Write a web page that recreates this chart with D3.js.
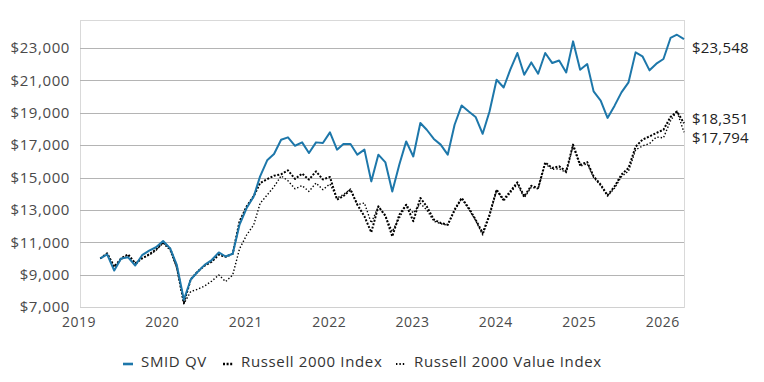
<!DOCTYPE html>
<html><head><meta charset="utf-8">
<script src="https://cdn.jsdelivr.net/npm/d3@7"></script>
<style>
html,body{margin:0;padding:0;background:#fff;}
svg{display:block;font-family:"Open Sans",Lato,sans-serif;}
</style></head><body>
<svg id="chart" width="764" height="382"></svg>
<script>
// ---- data ----
const seriesNames = ["SMID QV", "Russell 2000 Index", "Russell 2000 Value Index"];
const yTickValues = [7000, 9000, 11000, 13000, 15000, 17000, 19000, 21000, 23000];
const xTickYears = [2019, 2020, 2021, 2022, 2023, 2024, 2025, 2026];
// month-end values, Mar 2019 .. Mar 2026
const smidQV = [10000,10250,9250,10000,10070,9560,10200,10480,10690,11080,10620,9600,7450,8700,9180,9600,9900,10370,10120,10290,
 12090,13110,13830,15070,16060,16450,17330,17480,16960,17170,16510,17170,17130,17790,16720,17070,17070,16410,16720,14760,
 16410,15930,14140,15800,17230,16300,18370,17950,17380,17030,16410,18260,19450,19080,18740,17700,19080,21040,20560,21660,
 22690,21350,22110,21410,22690,22070,22230,21490,23410,21660,22010,20320,19750,18680,19440,20260,20880,22730,22490,21620,
 22030,22320,23620,23820,23548];
const russell2000 = [10000,10320,9490,10000,10250,9700,10000,10250,10550,11000,10600,9500,7250,8700,9200,9550,9800,10230,10100,10290,
 12290,13210,13850,14660,14900,15110,15200,15440,14910,15240,14870,15380,14880,15030,13630,13850,14250,13320,12600,11610,
 13215,12640,11360,12700,13320,12300,13735,13215,12400,12190,12085,13010,13735,13115,12400,11570,12700,14250,13630,14140,
 14700,13830,14490,14350,15930,15590,15690,15380,17030,15790,15950,15070,14560,13900,14450,15180,15590,16900,17340,17540,
 17750,17950,18740,19080,18351];
const russell2000Value = [10000,10250,9450,9950,10150,9600,10050,10200,10500,10950,10500,9400,7200,7950,8100,8300,8600,8980,8570,8980,
 10600,11450,12070,13400,13920,14430,15100,14800,14300,14500,14140,14660,14250,14600,13735,13940,14290,13320,13425,12190,
 13215,12600,11670,12500,13320,12800,13400,13000,12300,12150,12050,12950,13700,13050,12350,11450,12600,14200,13550,14050,
 14600,13750,14400,14300,15850,15500,15550,15300,16950,15700,15850,15000,14500,13850,14350,15050,15400,16700,16950,17100,
 17500,17450,18500,19100,17794];
const dates = smidQV.map((d, i) => new Date(2019, 3 + i, 0)); // month ends

// ---- layout ----
const svg = d3.select("#chart");
const plot = {left: 80, right: 684, top: 20, bottom: 307};
const x = d3.scaleTime().domain([new Date(2019, 0, 1), new Date(2026, 2, 31)]).range([plot.left, plot.right]);
const y = d3.scaleLinear().domain([7000, 23000]).range([plot.bottom, 48]);
const textColor = "#4a4a4a";
const fmt = d3.format("$,.0f");

// frame
svg.append("rect").attr("x", plot.left + 0.5).attr("y", plot.top + 0.5)
  .attr("width", plot.right - plot.left).attr("height", plot.bottom - plot.top)
  .attr("fill", "none").attr("stroke", "#d9d9d9");

// gridlines
svg.append("g").selectAll("line").data(yTickValues).join("line")
  .attr("x1", plot.left).attr("x2", plot.right)
  .attr("y1", d => Math.round(y(d)) + 0.5).attr("y2", d => Math.round(y(d)) + 0.5)
  .attr("stroke", d => d === 7000 ? "#d0d0d0" : "#b4b4b4").attr("stroke-width", 1);

// y labels
svg.append("g").selectAll("text").data(yTickValues).join("text")
  .attr("x", 70).attr("y", d => y(d)).attr("dy", "0.35em")
  .attr("text-anchor", "end").attr("font-size", 15).attr("letter-spacing", "0.6px")
  .attr("fill", textColor).text(d => fmt(d));

// x labels
svg.append("g").selectAll("text").data(xTickYears).join("text")
  .attr("x", d => x(new Date(d, 0, 1)) - 1).attr("y", 322).attr("dy", "0.35em")
  .attr("text-anchor", "middle").attr("font-size", 14).attr("letter-spacing", "0.5px")
  .attr("fill", textColor).text(d => d);

// series
const styles = [
  {values: smidQV, color: "#1d77aa", width: 2, dash: null},
  {values: russell2000, color: "#000", width: 2, dash: "2,1.6"},
  {values: russell2000Value, color: "#000", width: 1.4, dash: "1.4,2"}
];
const line = d3.line().x((d, i) => x(dates[i])).y(d => y(d));
[2, 1, 0].forEach(k => {
  const s = styles[k];
  svg.append("path").datum(s.values).attr("d", line)
    .attr("fill", "none").attr("stroke", s.color).attr("stroke-width", s.width)
    .attr("stroke-dasharray", s.dash).attr("stroke-linejoin", "round");
});

// end labels with simple collision spreading
const ends = styles.map((s, k) => ({v: s.values[s.values.length - 1], y: y(s.values[s.values.length - 1])}));
ends.sort((a, b) => a.y - b.y);
const minGap = 19;
for (let i = 1; i < ends.length; i++) {
  if (ends[i].y - ends[i - 1].y < minGap) {
    const mid = (ends[i].y + ends[i - 1].y) / 2;
    ends[i - 1].y = mid - minGap / 2; ends[i].y = mid + minGap / 2;
  }
}
ends.forEach(e => { e.y = Math.max(e.y, 48); });
svg.append("g").selectAll("text").data(ends).join("text")
  .attr("x", 692).attr("y", d => d.y).attr("dy", "0.35em")
  .attr("font-size", 15).attr("letter-spacing", "0.2px").attr("fill", "#222").text(d => fmt(d.v));

// legend
const legendY = 362;
const legendItems = [
  {name: seriesNames[0], mx: 123, tx: 141, s: styles[0]},
  {name: seriesNames[1], mx: 223, tx: 241, s: styles[1]},
  {name: seriesNames[2], mx: 396, tx: 414, s: styles[2]}
];
const lg = svg.append("g");
legendItems.forEach(it => {
  lg.append("line").attr("x1", it.mx).attr("x2", it.mx + 10)
    .attr("y1", legendY + 2).attr("y2", legendY + 2)
    .attr("stroke", it.s.color).attr("stroke-width", it.s.width + 0.6)
    .attr("stroke-dasharray", it.s.dash);
  lg.append("text").attr("x", it.tx).attr("y", legendY).attr("dy", "0.35em")
    .attr("font-size", 15).attr("letter-spacing", "0.65px").attr("fill", "#333").text(it.name);
});
</script>
</body></html>
